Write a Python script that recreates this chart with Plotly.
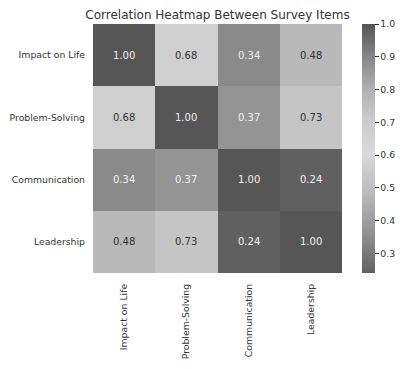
import plotly.graph_objects as go

items = ["Impact on Life", "Problem-Solving", "Communication", "Leadership"]
corr = [
    [1.00, 0.68, 0.34, 0.48],
    [0.68, 1.00, 0.37, 0.73],
    [0.34, 0.37, 1.00, 0.24],
    [0.48, 0.73, 0.24, 1.00],
]
cbar_ticks = [0.3, 0.4, 0.5, 0.6, 0.7, 0.8, 0.9, 1.0]

zmin, zmax = 0.24, 1.0
colorscale = [
    [0.0, "#606060"],
    [0.13, "#8a8a8a"],
    [0.32, "#bababa"],
    [0.48, "#d9d9d9"],
    [0.62, "#cbcbcb"],
    [0.74, "#b0b0b0"],
    [0.87, "#858585"],
    [1.0, "#565656"],
]

# page body has an 8px default margin; figure is sized to fit the window
W, H = 400, 361
L, T, PW, PH = 85, 16, 249, 249
TICK_FS = 9.3

fig = go.Figure(
    go.Heatmap(
        z=corr,
        x=items,
        y=items,
        zmin=zmin,
        zmax=zmax,
        colorscale=colorscale,
        xgap=0,
        ygap=0,
        colorbar=dict(
            x=1.08,
            xanchor="left",
            y=0.5,
            len=1.0,
            thickness=13,
            outlinewidth=0,
            xpad=0,
            ypad=0,
            tickvals=cbar_ticks,
            tickformat=".1f",
            ticks="outside",
            ticklen=4,
            tickcolor="#333333",
            tickfont=dict(family="DejaVu Sans", size=TICK_FS, color="#333333"),
        ),
        hoverinfo="skip",
    )
)

annotations = []
for i, row_name in enumerate(items):
    for j, col_name in enumerate(items):
        v = corr[i][j]
        norm = (v - zmin) / (zmax - zmin)
        dark = norm < 0.22 or norm > 0.8
        annotations.append(
            dict(
                x=col_name,
                y=row_name,
                xref="x",
                yref="y",
                text=f"{v:.2f}",
                showarrow=False,
                font=dict(family="DejaVu Sans", size=10,
                          color="#f0f0f0" if dark else "#333333"),
            )
        )

fig.update_layout(
    width=W,
    height=H,
    margin=dict(l=L, r=W - L - PW, t=T, b=H - T - PH, autoexpand=False),
    paper_bgcolor="white",
    plot_bgcolor="white",
    title=dict(
        text="Correlation Heatmap Between Survey Items",
        x=(L + PW / 2) / W,
        xanchor="center",
        y=1 - 7 / H,
        yanchor="middle",
        font=dict(family="DejaVu Sans", size=12, color="#333333"),
    ),
    xaxis=dict(
        tickangle=-90,
        ticks="",
        showgrid=False,
        zeroline=False,
        automargin=False,
        ticklabelstandoff=8,
        tickfont=dict(family="DejaVu Sans", size=TICK_FS, color="#333333"),
    ),
    yaxis=dict(
        autorange="reversed",
        ticks="",
        showgrid=False,
        zeroline=False,
        automargin=False,
        ticklabelstandoff=7,
        tickfont=dict(family="DejaVu Sans", size=TICK_FS, color="#333333"),
    ),
    annotations=annotations,
)

fig.write_html("out.html")
